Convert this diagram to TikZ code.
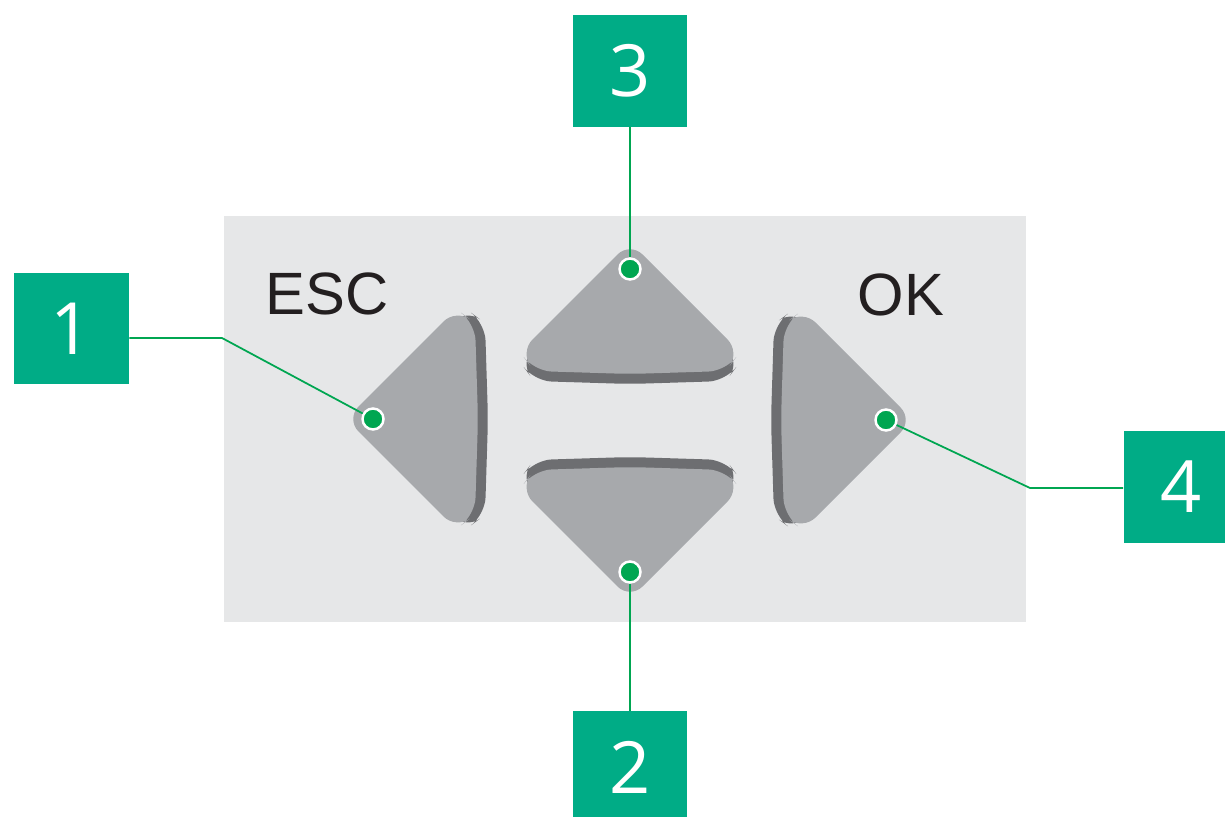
\documentclass[tikz,border=0pt]{standalone}
\usepackage{fontspec}
\setmainfont{Liberation Sans}
\newfontfamily\numfont{Open Sans}

\definecolor{panelgrey}{HTML}{E6E7E8}
\definecolor{keygrey}{HTML}{A7A9AC}
\definecolor{keydark}{HTML}{6D6E71}
\definecolor{boxgreen}{HTML}{00AC86}
\definecolor{dotgreen}{HTML}{00A651}
\definecolor{inkblack}{HTML}{231F20}

\tikzset{
  labelbox/.style={fill=boxgreen,text=white,minimum width=2.3cm,minimum height=2.24cm,
    inner sep=0pt,font=\numfont\fontsize{41}{41}\selectfont},
  keytext/.style={text=inkblack,inner sep=0pt,font=\fontsize{34}{34}\selectfont},
  keydot/.style={circle,fill=dotgreen,draw=white,line width=1.4pt,inner sep=0pt,minimum size=0.42cm},
  leader/.style={draw=dotgreen,line width=1pt},
  keybutton/.pic={
    \fill[keydark,rounded corners=10pt,shift={(10,0)}]
      (0,0) -- (110,110) -- (129,96) -- (132,0) -- (129,-96) -- (110,-110) -- cycle;
    \fill[keygrey,rounded corners=10pt]
      (0,0) -- (110,110) -- (129,96) -- (132,0) -- (129,-96) -- (110,-110) -- cycle;
    \node[keydot] (-dot) at (27,0) {};
  }
}

\begin{document}
\begin{tikzpicture}[x=0.02cm,y=0.02cm]
  \useasboundingbox (0,0) rectangle (1225,816);
  \clip (0,0) rectangle (1225,816);
  % keypad panel
  \fill[panelgrey] (224,194) rectangle (1026,600);
  \node[keytext] (EscText) at (327,522) {ESC};
  \node[keytext] (OkText) at (901,521) {OK};

  % arrow keys
  \pic (left) at (346,397) {keybutton};
  \pic[rotate=-90] (up) at (630,574) {keybutton};
  \pic[rotate=90] (down) at (630,217) {keybutton};
  \pic[rotate=180] (right) at (913,396) {keybutton};

  % numbered labels
  \node[labelbox] (Label1) at (71.5,487.5) {1};
  \node[labelbox] (Label3) at (630,745) {3};
  \node[labelbox] (Label4) at (1181,329) {4};
  \node[labelbox] (Label2) at (630,49) {2};

  \coordinate (EscBend) at (222,478);
  \coordinate (OkBend) at (1030,328);
  \draw[leader] (Label1.east |- EscBend) -- (EscBend) -- (left-dot);
  \draw[leader] (Label3.south) -- (up-dot);
  \draw[leader] (down-dot) -- (Label2.north);
  \draw[leader] (right-dot) -- (OkBend) -- (Label4.west |- OkBend);
\end{tikzpicture}
\end{document}
